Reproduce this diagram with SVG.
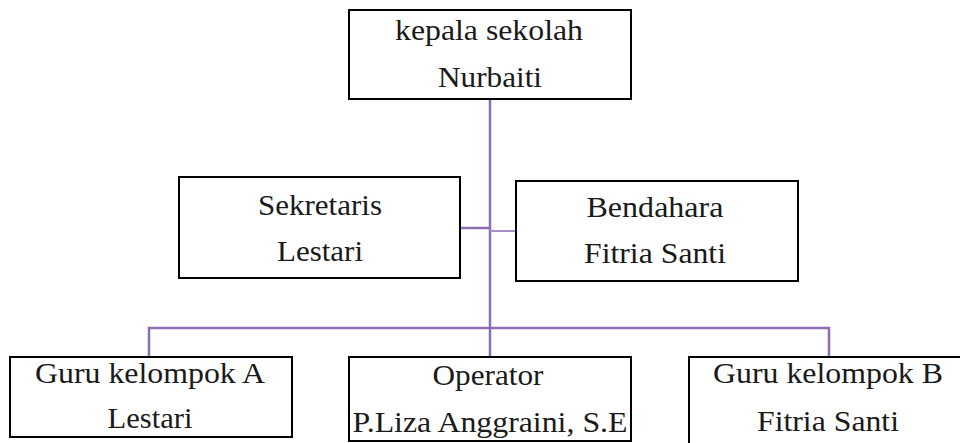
<svg xmlns="http://www.w3.org/2000/svg" width="960" height="443" viewBox="0 0 960 443">
<style>
.box{fill:#fff;stroke:#000;stroke-width:2}
.t{font-family:'Liberation Serif','Times New Roman','DejaVu Serif',serif;font-size:29px;fill:#1a1a1a;text-anchor:middle}
.c{fill:none;stroke:#8e6fb3;stroke-width:2.5}
.c2{fill:none;stroke:#a68fc8;stroke-width:2}
</style>
<rect width="960" height="443" fill="#fff"/>
<g id="connectors">
<line class="c" x1="490" y1="100" x2="490" y2="328"/>
<line class="c" x1="460" y1="228" x2="490" y2="228"/>
<line class="c2" x1="490" y1="231" x2="516" y2="231"/>
<polyline class="c" points="149,356 149,328 829,328 829,356"/>
<line class="c" x1="490" y1="328" x2="490" y2="356"/>
</g>
<g id="kepala">
<rect class="box" x="349" y="10" width="282" height="89"/>
<text class="t" x="489" y="40" textLength="188" lengthAdjust="spacingAndGlyphs">kepala sekolah</text>
<text class="t" x="490" y="87" textLength="104" lengthAdjust="spacingAndGlyphs">Nurbaiti</text>
</g>
<g id="sekretaris">
<rect class="box" x="179" y="177" width="281" height="101"/>
<text class="t" x="320" y="215" textLength="124" lengthAdjust="spacingAndGlyphs">Sekretaris</text>
<text class="t" x="320" y="261" textLength="86" lengthAdjust="spacingAndGlyphs">Lestari</text>
</g>
<g id="bendahara">
<rect class="box" x="516" y="181" width="282" height="100"/>
<text class="t" x="655" y="217" textLength="137" lengthAdjust="spacingAndGlyphs">Bendahara</text>
<text class="t" x="655" y="263" textLength="142" lengthAdjust="spacingAndGlyphs">Fitria Santi</text>
</g>
<g id="guruA">
<rect class="box" x="10" y="357" width="282" height="80"/>
<text class="t" x="150" y="383" textLength="230" lengthAdjust="spacingAndGlyphs">Guru kelompok A</text>
<text class="t" x="150" y="428" textLength="85" lengthAdjust="spacingAndGlyphs">Lestari</text>
</g>
<g id="operator">
<rect class="box" x="349" y="357" width="282" height="84"/>
<text class="t" x="488" y="385" textLength="111" lengthAdjust="spacingAndGlyphs">Operator</text>
<text class="t" x="490" y="432" textLength="275" lengthAdjust="spacingAndGlyphs">P.Liza Anggraini, S.E</text>
</g>
<g id="guruB">
<rect class="box" x="689" y="357" width="282" height="100"/>
<text class="t" x="828" y="383" textLength="230" lengthAdjust="spacingAndGlyphs">Guru kelompok B</text>
<text class="t" x="828" y="431" textLength="142" lengthAdjust="spacingAndGlyphs">Fitria Santi</text>
</g>
</svg>
